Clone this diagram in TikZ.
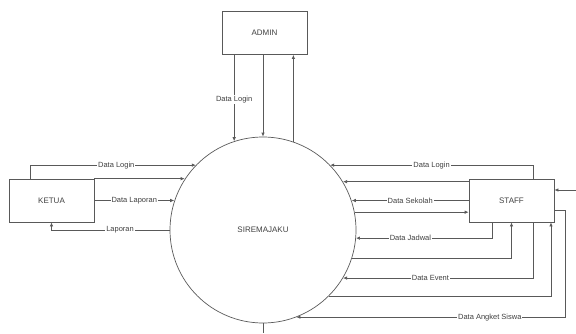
\documentclass[tikz,border=0pt]{standalone}
\usepackage{fontspec}
\setmainfont{Liberation Sans}
\usetikzlibrary{arrows.meta}
\definecolor{linegray}{gray}{0.35}
\definecolor{textgray}{gray}{0.25}
\tikzset{entity/.style = {draw=linegray, line width=0.7, minimum width=85pt, minimum height=43pt, inner sep=0pt}}
\tikzset{process/.style = {circle, draw=linegray, line width=0.7, minimum size=186pt, inner sep=0pt}}
\tikzset{flow/.style = {draw=linegray, line width=0.7, -{Latex[length=4pt,width=3.5pt]}}}
\tikzset{lbl/.style = {fill=white, inner sep=1pt, text=textgray, font=\fontsize{7.5}{8}\selectfont}}
\def\W{576}
\def\H{333}

\begin{document}
\begin{tikzpicture}[x=1pt, y=1pt, font=\fontsize{8}{9}\selectfont, text=textgray]
		% Frame
		\useasboundingbox (0,0) rectangle (\W,\H);
		
		% Process
		\node[process] (sire) at (263,103) {SIREMAJAKU};
		
		% Entities
		\node[entity] (admin) at (264.5,300) {ADMIN};
		\node[entity] (ketua) at (51.5,132.5) {KETUA};
		\node[entity] (staff) at (511.5,132.5) {STAFF};
		
		% Helper Coordinates
		\coordinate (s1) at ([yshift=-3pt]staff.north west);
		\coordinate (s2) at ([yshift=-10pt]staff.east);
		\coordinate (s3) at (565,0 |- s2);
		\coordinate (ext) at (\W,143);
		\coordinate (out) at (263,0);
		
		% Admin Flows
		\draw[flow] (admin.south -| sire.108) -- (sire.108) node[lbl, pos=0.52] {Data Login};
		\draw[flow] (admin.south -| sire.north) -- (sire.north);
		\draw[flow] (sire.71) -- (sire.71 |- admin.south);
		
		% Ketua Flows
		\draw[flow] ([xshift=-21.5pt]ketua.north) |- (sire.136) node[lbl, pos=0.76] {Data Login};
		\draw[flow] (ketua.north east) -- (ketua.north east -| sire.147);
		\draw[flow] (ketua.east) -- (ketua.east -| sire.162) node[lbl, midway] {Data Laporan};
		\draw[flow] (sire.west) -| (ketua.south) node[lbl, pos=0.21] {Laporan};
		
		% Staff Flows
		%% Top
		\draw[flow] ([xshift=21.5pt]staff.north) |- (sire.44) node[lbl, pos=0.75] {Data Login};
		\draw[flow] (s1) -- (s1 -| sire.31);
		\draw[flow] (staff.west) -- (staff.west -| sire.18) node[lbl, midway] {Data Sekolah};
		\draw[flow] (sire.11) -- (sire.11 -| staff.west);
		%% Bottom
		\draw[flow] ([xshift=-19.5pt]staff.south) |- (sire.355) node[lbl, pos=0.8] {Data Jadwal};
		\draw[flow] (sire.342) -| (staff.south);
		\draw[flow] ([xshift=21.5pt]staff.south) |- (sire.329) node[lbl, pos=0.77] {Data Event};
		\draw[flow] (sire.315) -| ([xshift=39.5pt]staff.south);
		%% Right
		\draw[flow] (s2) -- (s3) |- (sire.291) node[lbl, pos=0.64] {Data Angket Siswa};
		\draw[flow] (ext) -- (ext -| staff.east);
		
		% Stub
		\draw[draw=linegray, line width=0.7] (sire.south) -- (out);
	\end{tikzpicture}
\end{document}
